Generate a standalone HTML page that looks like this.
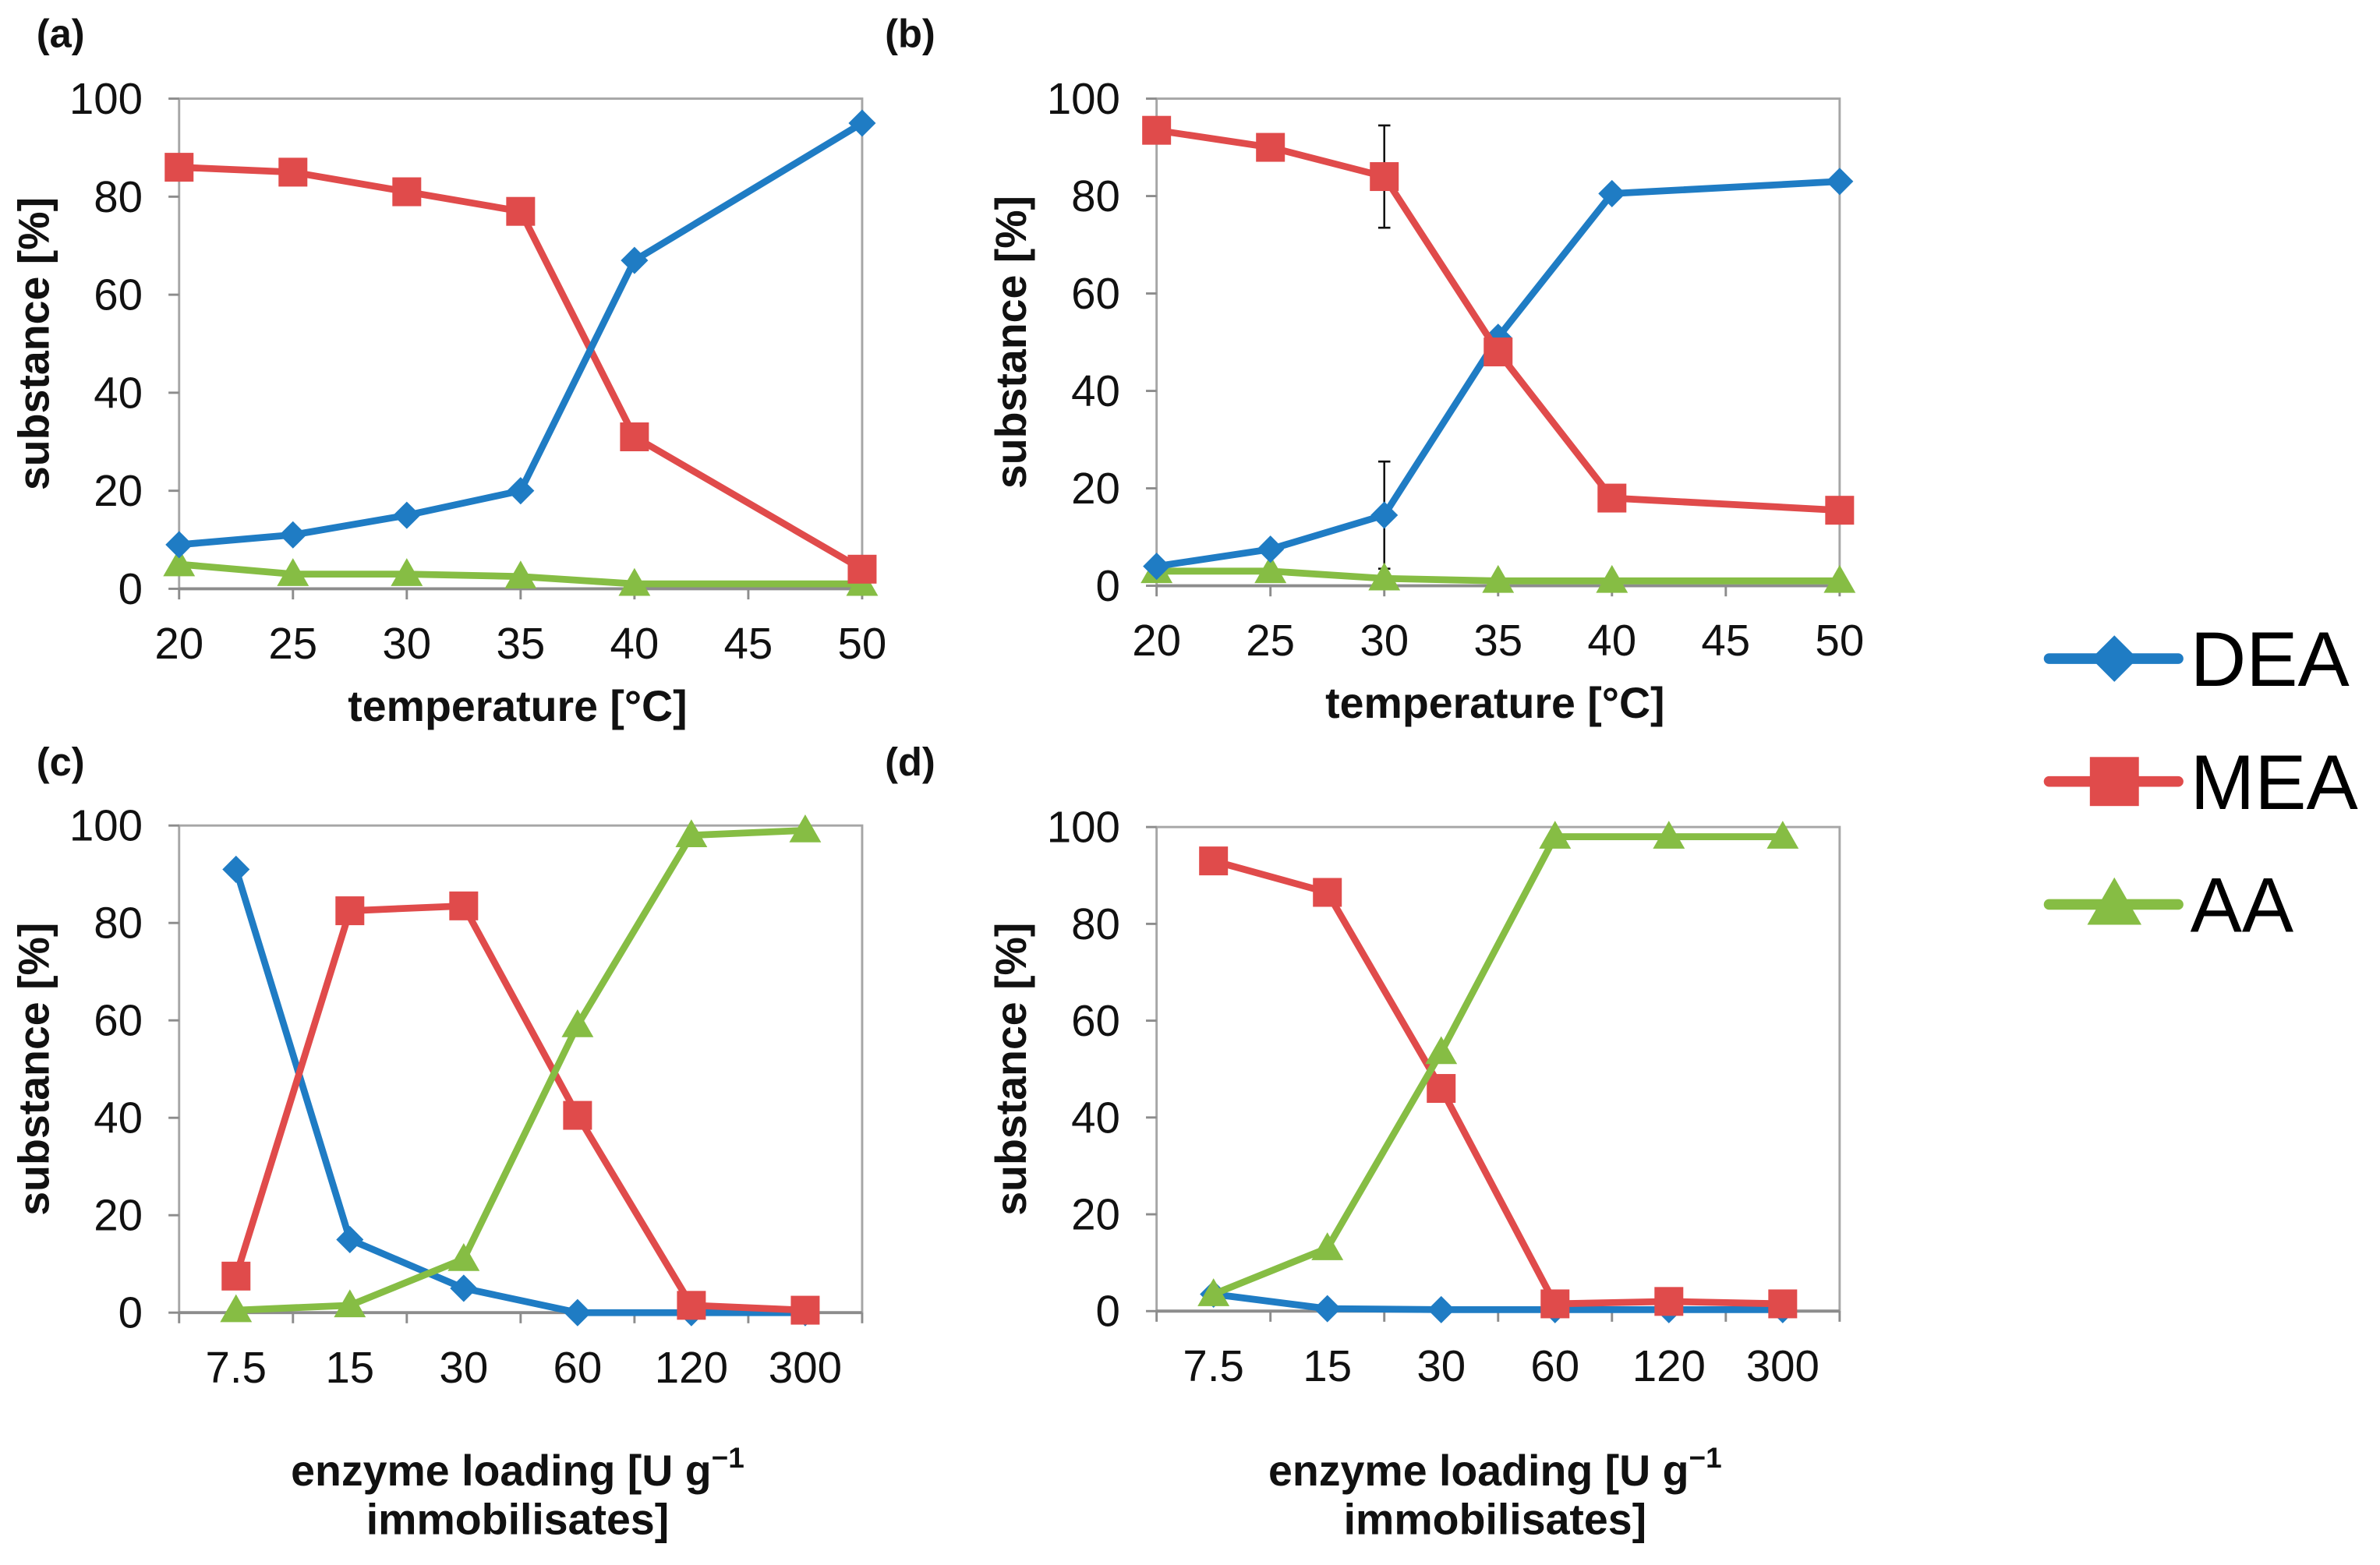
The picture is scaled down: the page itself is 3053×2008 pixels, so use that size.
<!DOCTYPE html>
<html><head><meta charset="utf-8"><style>
html,body{margin:0;padding:0;background:#fff;}
svg{display:block;}
text{font-family:"Liberation Sans",sans-serif;}
</style></head><body>
<svg id="chart" width="3053" height="2008" viewBox="0 0 1568 1031.3" xmlns="http://www.w3.org/2000/svg"></svg>
<script>
// ---- data ----
const tempCats = [20,25,30,35,40,45,50];
const tempX = [20,25,30,35,40,50];
const loadCats = ["7.5","15","30","60","120","300"];
const yTicks = [0,20,40,60,80,100];
const seriesNames = ["DEA","MEA","AA"];
const aDEA = [9,11,15,20,67,95];
const aMEA = [86,85,81,77,31,4];
const aAA  = [5,3,3,2.5,1,1];
const bDEA = [4,7.5,14.5,51,80.5,83];
const bMEA = [93.5,90,84,48,18,15.5];
const bAA  = [3,3,1.5,1,1,1];
const bErrMEA = [0,0,10.5,0,0,0];
const bErrDEA = [0,0,11,0,0,0];
const cDEA = [91,15,5,0,0,0];
const cMEA = [7.5,82.5,83.5,40.5,1.5,0.5];
const cAA  = [0.5,1.5,11,59,98,99];
const dDEA = [3.5,0.5,0.3,0.3,0.3,0.3];
const dMEA = [93,86.5,46,1.5,2,1.5];
const dAA  = [3.5,13,53.5,98,98,98];

const COLORS = {DEA:"#1f7cc4", MEA:"#e04b4b", AA:"#86bd44"};
const NS = "http://www.w3.org/2000/svg";
const svg = document.getElementById("chart");
function el(tag, attrs, parent){
  const e = document.createElementNS(NS, tag);
  for (const k in attrs) e.setAttribute(k, attrs[k]);
  (parent||svg).appendChild(e);
  return e;
}
function marker(name, x, y, g, s){
  s = s||1;
  let m;
  if (name==="DEA"){
    const r=9*s;
    m = el("polygon",{points:`${x},${y-r} ${x+r},${y} ${x},${y+r} ${x-r},${y}`,fill:COLORS.DEA},g);
  } else if (name==="MEA"){
    const h=9.5*s;
    m = el("rect",{x:x-h,y:y-h,width:2*h,height:2*h,fill:COLORS.MEA},g);
  } else {
    const h=10.5*s;
    m = el("polygon",{points:`${x},${y-h} ${x+h},${y+h*0.75} ${x-h},${y+h*0.75}`,fill:COLORS.AA},g);
  }
  return m;
}

function panel(opt){
  const g = el("g",{});
  
  
  const L=opt.left, R=opt.left+450, T=opt.top, B=opt.bottom;
  const yS = v => B - (v/100)*(B-T);
  let xS;
  if (opt.cat){
    const w=(R-L)/loadCats.length;
    xS = i => L + w*(i+0.5);
  } else {
    xS = v => L + (v-20)/30*(R-L);
  }
  const box = el("rect",{x:L,y:T,width:R-L,height:B-T,fill:"none",stroke:"#a6a6a6","stroke-width":1.5},g);
  
  
  el("line",{x1:L,y1:B,x2:R,y2:B,stroke:"#8c8c8c","stroke-width":2},g);
  yTicks.forEach(v=>{
    const y=yS(v);
    el("line",{x1:L-7,y1:y,x2:L,y2:y,stroke:"#8c8c8c","stroke-width":1.5},g);
    const t=el("text",{x:L-24,y:y+10,"text-anchor":"end","font-size":29,fill:"#111"},g);
    t.textContent=v;
    
    
  });
  if (opt.cat){
    const w=(R-L)/loadCats.length;
    for(let i=0;i<=loadCats.length;i++){
      el("line",{x1:L+w*i,y1:B,x2:L+w*i,y2:B+7,stroke:"#8c8c8c","stroke-width":1.5},g);
    }
    loadCats.forEach((c,i)=>{
      const t=el("text",{x:xS(i),y:B+46,"text-anchor":"middle","font-size":29,fill:"#111"},g);
      t.textContent=c;
      
      
    });
  } else {
    tempCats.forEach(v=>{
      el("line",{x1:xS(v),y1:B,x2:xS(v),y2:B+7,stroke:"#8c8c8c","stroke-width":1.5},g);
      const t=el("text",{x:xS(v),y:B+46,"text-anchor":"middle","font-size":29,fill:"#111"},g);
      t.textContent=v;
      
      
    });
  }
  const yt=el("text",{x:0,y:0,"text-anchor":"middle","font-size":28.5,"font-weight":"bold",fill:"#111",transform:`translate(${L-86},${(T+B)/2}) rotate(-90)`},g);
  yt.textContent="substance [%]";
  
  
  opt.xtitle.forEach((line,i)=>{
    const xt=el("text",{x:(L+R)/2-2,y:opt.xtitleY+i*32,"text-anchor":"middle","font-size":28.5,"font-weight":"bold",fill:"#111"},g);
    if (line==="ENZ"){
      xt.textContent="enzyme  loading [U g";
      const s=el("tspan",{dy:-12,"font-size":19},xt); s.textContent="\u22121";
    } else xt.textContent=line;
    
    
  });
  const pl=el("text",{x:opt.labelX,y:opt.labelY,"font-size":26,"font-weight":"bold",fill:"#111"},g);
  pl.textContent="("+opt.id+")";
  
  
  if (opt.err){
    opt.err.forEach(([vals,errs])=>{
      vals.forEach((v,i)=>{
        if(!errs[i]) return;
        const x=opt.cat?xS(i):xS(opt.xs[i]);
        const y1=yS(v-errs[i]), y2=yS(v+errs[i]);
        el("line",{x1:x,y1:y1,x2:x,y2:y2,stroke:"#111","stroke-width":1.3},g);
        el("line",{x1:x-4,y1:y1,x2:x+4,y2:y1,stroke:"#111","stroke-width":1.3},g);
        el("line",{x1:x-4,y1:y2,x2:x+4,y2:y2,stroke:"#111","stroke-width":1.3},g);
      });
    });
  }
  opt.series.forEach(([name,vals])=>{
    const sg=el("g",{},g);
    
    
    const pts=vals.map((v,i)=>[opt.cat?xS(i):xS(opt.xs[i]), yS(v)]);
    const pl=el("polyline",{points:pts.map(p=>p.join(",")).join(" "),fill:"none",stroke:COLORS[name],"stroke-width":4.5,"stroke-linejoin":"round","stroke-linecap":"round"},sg);
    
    
    pts.forEach(p=>{
      const m=marker(name,p[0],p[1],sg);
      
      
    });
  });
}

panel({id:"a",left:118,top:65,bottom:388,xs:tempX,cat:false,labelX:24,labelY:31,
  xtitle:["temperature [°C]"],xtitleY:475,
  series:[["AA",aAA],["MEA",aMEA],["DEA",aDEA]]});
panel({id:"b",left:762,top:65,bottom:386,xs:tempX,cat:false,labelX:583,labelY:31,
  xtitle:["temperature [°C]"],xtitleY:473,
  err:[[bMEA,bErrMEA],[bDEA,bErrDEA]],
  series:[["AA",bAA],["DEA",bDEA],["MEA",bMEA]]});
panel({id:"c",left:118,top:544,bottom:865,cat:true,labelX:24,labelY:511,
  xtitle:["ENZ","immobilisates]"],xtitleY:979,
  series:[["DEA",cDEA],["MEA",cMEA],["AA",cAA]]});
panel({id:"d",left:762,top:545,bottom:864,cat:true,labelX:583,labelY:511,
  xtitle:["ENZ","immobilisates]"],xtitleY:979,
  series:[["DEA",dDEA],["MEA",dMEA],["AA",dAA]]});

const lg=el("g",{});


const legY=[434,515,596];
seriesNames.forEach((n,i)=>{
  const eg=el("g",{},lg);
  
  
  el("line",{x1:1350,y1:legY[i],x2:1435,y2:legY[i],stroke:COLORS[n],"stroke-width":7,"stroke-linecap":"round"},eg);
  marker(n,1393,legY[i],eg,1.7);
  const t=el("text",{x:1443,y:legY[i]+18,"font-size":51,fill:"#000"},eg);
  t.textContent=n;
});
</script>
</body></html>
